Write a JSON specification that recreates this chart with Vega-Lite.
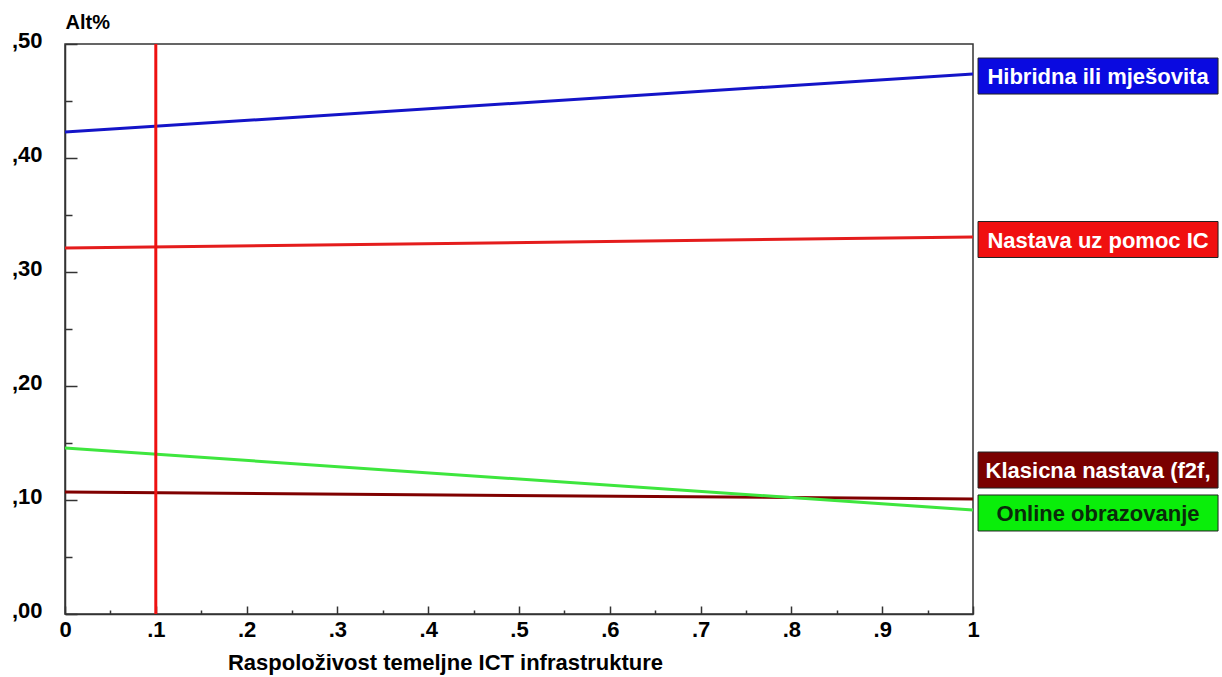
{
  "$schema": "https://vega.github.io/schema/vega-lite/v6.json",
  "width": 908,
  "height": 570,
  "autosize": {"type": "none"},
  "padding": {"left": 65, "top": 44, "right": 249, "bottom": 63},
  "background": "white",
  "config": {
    "view": {"stroke": "#333333", "strokeWidth": 1.5},
    "font": "Liberation Sans"
  },
  "datasets": {
    "lines": [
      {"series": "Hibridna ili mješovita", "x": 0, "y": 0.4228},
      {"series": "Hibridna ili mješovita", "x": 1, "y": 0.4737},
      {"series": "Nastava uz pomoc IC", "x": 0, "y": 0.321},
      {"series": "Nastava uz pomoc IC", "x": 1, "y": 0.3307},
      {"series": "Klasicna nastava (f2f,", "x": 0, "y": 0.107},
      {"series": "Klasicna nastava (f2f,", "x": 1, "y": 0.1009},
      {"series": "Online obrazovanje", "x": 0, "y": 0.1456},
      {"series": "Online obrazovanje", "x": 1, "y": 0.0912}
    ],
    "labels": [
      {"series": "Hibridna ili mješovita", "labelY": 0.4719},
      {"series": "Nastava uz pomoc IC", "labelY": 0.3285},
      {"series": "Klasicna nastava (f2f,", "labelY": 0.1263},
      {"series": "Online obrazovanje", "labelY": 0.0886}
    ],
    "marker": [{"x": 0.1}]
  },
  "layer": [
    {
      "data": {"name": "lines"},
      "mark": {"type": "line", "strokeWidth": 3, "clip": true},
      "encoding": {
        "x": {
          "field": "x", "type": "quantitative",
          "scale": {"domain": [0, 1], "nice": false, "zero": false},
          "axis": {
            "values": [0, 0.05, 0.1, 0.15, 0.2, 0.25, 0.3, 0.35, 0.4, 0.45, 0.5, 0.55, 0.6, 0.65, 0.7, 0.75, 0.8, 0.85, 0.9, 0.95, 1],
            "labelExpr": "round(datum.value*100) % 10 != 0 ? '' : (datum.value == 0 ? '0' : (datum.value == 1 ? '1' : replace(format(datum.value, '.1f'), '0.', '.')))",
            "grid": false,
            "domainColor": "#333333",
            "domainWidth": 1.5,
            "tickColor": "#333333",
            "tickWidth": 1.5,
            "tickSize": {"condition": {"test": "round(datum.value*100) % 10 == 0", "value": -8}, "value": -4},
            "labelPadding": 13,
            "labelFontSize": 22,
            "labelFontWeight": "bold",
            "labelColor": "black",
            "labelFlush": false,
            "title": "Raspoloživost temeljne ICT infrastrukture",
            "titleFontSize": 22,
            "titleFontWeight": "bold",
            "titleColor": "black",
            "titleAnchor": "start",
            "titleAlign": "center",
            "titleX": 380,
            "titleY": 48,
            "titleBaseline": "middle"
          }
        },
        "y": {
          "field": "y", "type": "quantitative",
          "scale": {"domain": [0, 0.5], "nice": false, "zero": false},
          "axis": {
            "values": [0, 0.05, 0.1, 0.15, 0.2, 0.25, 0.3, 0.35, 0.4, 0.45, 0.5],
            "labelExpr": "round(datum.value*100) % 10 != 0 ? '' : replace(format(datum.value, '.2f'), '0.', ',')",
            "grid": false,
            "domainColor": "#333333",
            "domainWidth": 1.5,
            "tickColor": "#333333",
            "tickWidth": 1.5,
            "tickSize": {"condition": {"test": "round(datum.value*100) % 10 == 0", "value": -12}, "value": -7},
            "labelPadding": 35,
            "labelOffset": -4,
            "labelFontSize": 22,
            "labelFontWeight": "bold",
            "labelColor": "black",
            "labelFlush": false,
            "title": "Alt%",
            "titleAngle": 0,
            "titleFontSize": 20,
            "titleFontWeight": "bold",
            "titleColor": "black",
            "titleAlign": "left",
            "titleBaseline": "middle",
            "titleX": 0,
            "titleY": -22
          }
        },
        "color": {
          "field": "series", "type": "nominal",
          "scale": {
            "domain": ["Hibridna ili mješovita", "Nastava uz pomoc IC", "Klasicna nastava (f2f,", "Online obrazovanje"],
            "range": ["#1414c8", "#e41c1c", "#800000", "#3ee63e"]
          },
          "legend": null
        }
      }
    },
    {
      "data": {"name": "marker"},
      "mark": {"type": "rule", "color": "#ee1111", "strokeWidth": 3},
      "encoding": {"x": {"field": "x", "type": "quantitative"}}
    },
    {
      "data": {"name": "labels"},
      "mark": {
        "type": "point",
        "shape": "M-1,-0.15L1,-0.15L1,0.15L-1,0.15Z",
        "size": 57600,
        "filled": true,
        "opacity": 1,
        "stroke": "#222222",
        "strokeWidth": 1,
        "clip": false
      },
      "encoding": {
        "x": {"datum": 1.1377, "type": "quantitative"},
        "y": {"field": "labelY", "type": "quantitative"},
        "fill": {
          "field": "series", "type": "nominal",
          "scale": {
            "domain": ["Hibridna ili mješovita", "Nastava uz pomoc IC", "Klasicna nastava (f2f,", "Online obrazovanje"],
            "range": ["#0a0ae0", "#f01010", "#7a0000", "#0aee0a"]
          },
          "legend": null
        }
      }
    },
    {
      "data": {"name": "labels"},
      "mark": {
        "type": "text",
        "fontSize": 22,
        "fontWeight": "bold",
        "align": "center",
        "baseline": "middle",
        "dy": 1,
        "clip": false
      },
      "encoding": {
        "x": {"datum": 1.1377, "type": "quantitative"},
        "y": {"field": "labelY", "type": "quantitative"},
        "text": {"field": "series"},
        "color": {
          "condition": {"test": "datum.series === 'Online obrazovanje'", "value": "#0a2a0a"},
          "value": "white"
        }
      }
    }
  ]
}
